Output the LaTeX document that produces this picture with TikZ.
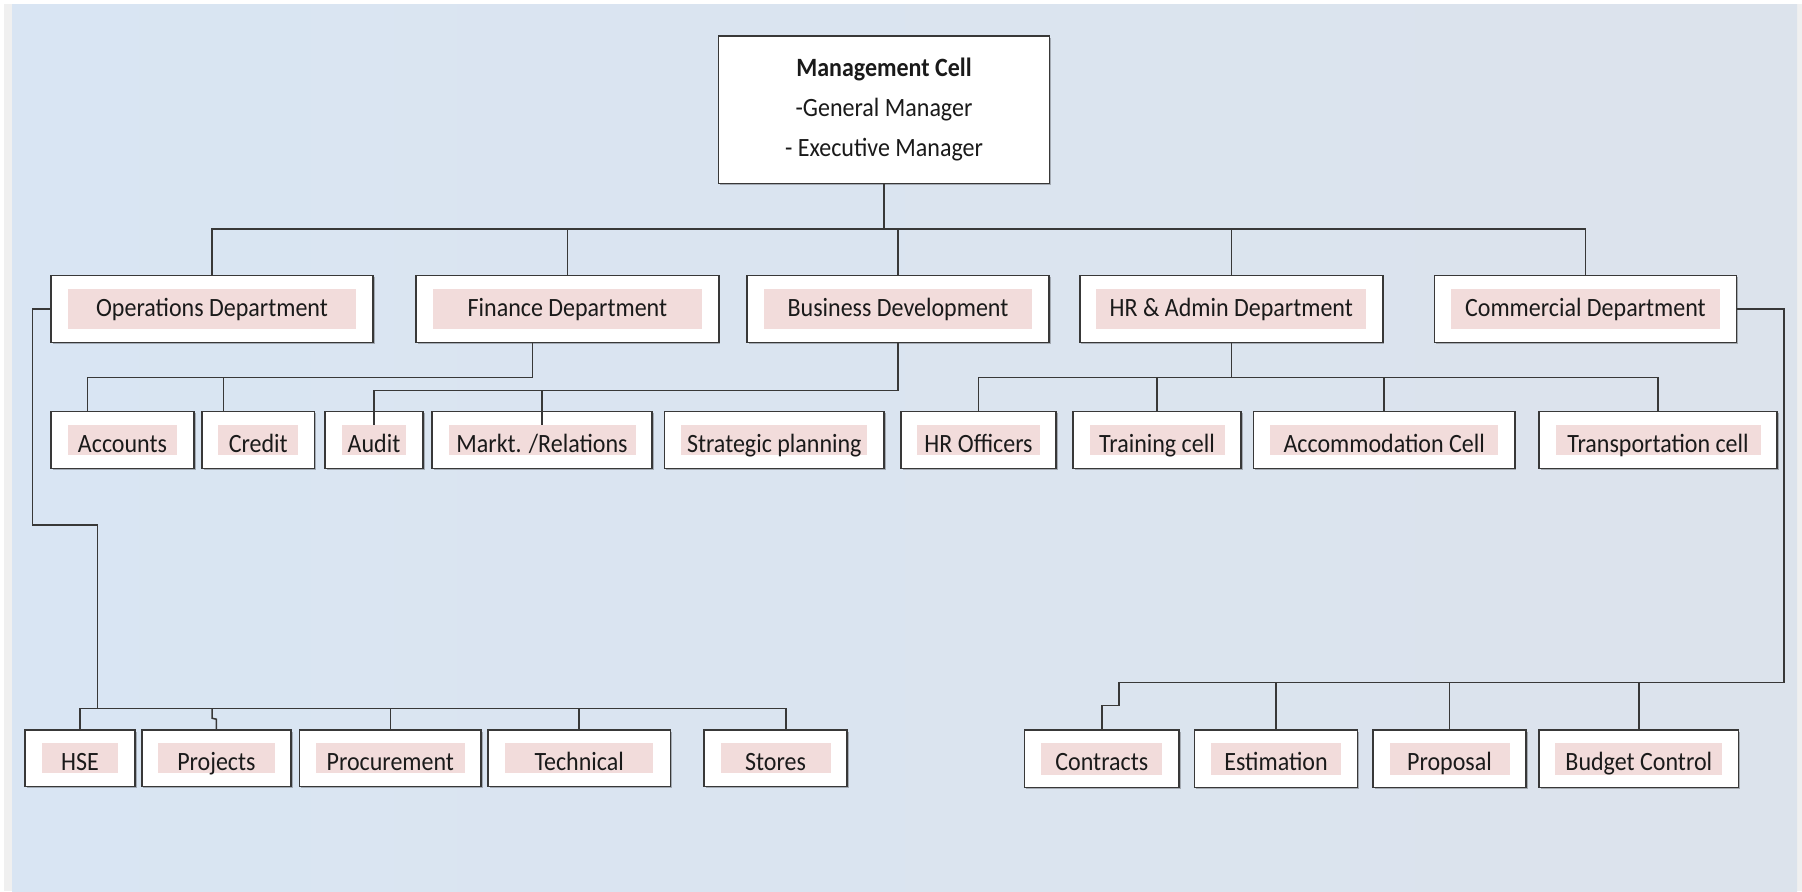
\documentclass[tikz,border=0pt]{standalone}
\usepackage{fontspec}
\setmainfont{Carlito}
\usetikzlibrary{shadows,calc}
\definecolor{pinkbg}{HTML}{F2DCDB}
\definecolor{bgl}{HTML}{D9E5F3}
\definecolor{bgr}{HTML}{DCE3EC}
\definecolor{edge}{HTML}{383838}
\definecolor{sidegray}{HTML}{F0F0F0}
\definecolor{txt}{HTML}{1A1A1A}
\newcommand\tx[1]{\scalebox{1}[1.1]{#1}}
\newcommand\obox[8]{%
  \node[obox, minimum width={#4*0.5pt}, minimum height={#5*0.5pt}] (#1) at (#2,#3) {};
  \node[pbox, minimum width={#6*0.5pt}, minimum height={#7*0.5pt}] (#1t) at (#1.center) {\tx{#8}};
}
\begin{document}
\begin{tikzpicture}[x=0.5pt,y=-0.5pt,
  obox/.style={draw=edge, line width=0.75pt, fill=white, inner sep=0pt,
    drop shadow={shadow xshift=0.8pt, shadow yshift=-0.8pt, fill=black, opacity=0.25}},
  pbox/.style={fill=pinkbg, inner sep=0pt, text=txt, font=\fontsize{12}{14}\selectfont,
    text height=12.5pt, text depth=0.5pt},
  conn/.style={draw=edge, line width=0.75pt}]
\useasboundingbox (0,0) rectangle (1802,891);
% background
\fill[white] (0,0) rectangle (1802,891);
\fill[sidegray] (4,4) rectangle (12,891);
\fill[sidegray] (1797,4) rectangle (1802,891);
\shade[left color=bgl, right color=bgr] (12,4) rectangle (1797,891);

% management
\node[obox, minimum width={330.6*0.5pt}, minimum height={147.3*0.5pt}] (mgmt) at (884,109.7) {};
\node[align=center, text=txt, font=\fontsize{12}{20}\selectfont, inner sep=0pt] (mgmtt) at (mgmt.center)
  {\tx{\bfseries Management Cell}\\\tx{-General Manager}\\\tx{- Executive Manager}};

% level 2
\begin{scope}[pbox/.append style={text height=10pt, text depth=2.5pt}]
\obox{ops}{212}{309}{322}{67.4}{288.3}{40}{Operations Department}
\obox{fin}{567.4}{309}{302.7}{67.4}{269.8}{40}{Finance Department}
\obox{bd}{898}{309}{302}{67.4}{268.5}{40}{Business Development}
\obox{hr}{1231.3}{309}{303}{67.4}{270}{40}{HR \& Admin Department}
\obox{com}{1585.4}{309}{302}{67.4}{268.7}{40}{Commercial Department}
\end{scope}

% level 3
\obox{acc}{122.5}{440}{143}{56.6}{109}{29.3}{Accounts}
\obox{crd}{258.3}{440}{112.6}{56.6}{80}{29.3}{Credit}
\obox{aud}{374}{440}{98}{56.6}{64.8}{29.3}{Audit}
\obox{mkt}{542}{440}{220}{56.6}{187}{29.3}{Markt. /Relations}
\obox{str}{774.3}{440}{219.3}{56.6}{185.8}{29.3}{Strategic planning}
\obox{hro}{978.5}{440}{155}{56.6}{123}{29.3}{HR Officers}
\obox{trn}{1157}{440}{168}{56.6}{135}{29.3}{Training cell}
\obox{acm}{1384.2}{440}{261.2}{56.6}{228}{29.3}{Accommodation Cell}
\obox{trp}{1658}{440}{238}{56.6}{205}{29.3}{Transportation cell}

% bottom left
\obox{hse}{80}{758.3}{110}{56.7}{76.8}{30}{HSE}
\obox{prj}{216.4}{758.3}{149.2}{56.7}{116.4}{30}{Projects}
\obox{prc}{390.3}{758.3}{181.3}{56.7}{149}{30}{Procurement}
\obox{tec}{579.2}{758.3}{182.5}{56.7}{148}{30}{Technical}
\obox{sto}{775.5}{758.3}{143}{56.7}{110}{30}{Stores}

% bottom right
\obox{ctr}{1101.8}{758.7}{154.4}{57.3}{121.2}{31.7}{Contracts}
\obox{est}{1276}{758.7}{163}{57.3}{129.7}{31.7}{Estimation}
\obox{prp}{1449.5}{758.7}{153}{57.3}{120}{31.7}{Proposal}
\obox{bud}{1638.8}{758.7}{199.7}{57.3}{167}{31.7}{Budget Control}

% coordinates for buses
\coordinate (busA) at (884,229);
\coordinate (busF) at (532.7,377.3);
\coordinate (busB) at (898,390.7);
\coordinate (busH) at (1231.3,377.3);
\coordinate (o1) at (32.7,525);
\coordinate (o2) at (97.6,708.7);
\coordinate (c1) at (1784,682.7);
\coordinate (c2) at (1119,705.7);
\coordinate (finDrop) at ($(fin.south west)!0.386!(fin.south east)$);
\coordinate (accDrop) at ($(acc.north west)!0.259!(acc.north east)$);
\coordinate (crdDrop) at ($(crd.north west)!0.195!(crd.north east)$);
\coordinate (stoDrop) at ($(sto.north west)!0.573!(sto.north east)$);
\coordinate (pj) at ($(prj.north)+(-4.4,-11)$);

% management bus
\draw[conn] (mgmt.south) -- (busA);
\draw[conn] (ops.north) |- (busA) -| (com.north);
\draw[conn] (fin.north) -- (fin.north |- busA);
\draw[conn] (bd.north) -- (bd.north |- busA);
\draw[conn] (hr.north) -- (hr.north |- busA);

% finance
\draw[conn] (finDrop) -- (finDrop |- busF) -| (accDrop);
\draw[conn] (crdDrop) -- (crdDrop |- busF);

% business development
\draw[conn] (bd.south) -- (busB) -| (audt.north);
\draw[conn] (mktt.north) -- (mktt.north |- busB);

% HR
\draw[conn] (hr.south) -- (busH);
\draw[conn] (hro.north) |- (busH) -| (trp.north);
\draw[conn] (trn.north) -- (trn.north |- busH);
\draw[conn] (acm.north) -- (acm.north |- busH);

% operations side
\draw[conn] (ops.west) -| (o1) -- (o1 -| o2) -- (o2);
\draw[conn] (hse.north) |- (o2) -| (stoDrop);
\draw[conn] (prj.north) -- ++(0,-10) -- (pj) -- (pj |- o2);
\draw[conn] (prc.north) -- (prc.north |- o2);
\draw[conn] (tec.north) -- (tec.north |- o2);

% commercial side
\draw[conn] (com.east) -| (c1) -| (c2) -| (ctr.north);
\draw[conn] (est.north) -- (est.north |- c1);
\draw[conn] (prp.north) -- (prp.north |- c1);
\draw[conn] (bud.north) -- (bud.north |- c1);
\end{tikzpicture}
\end{document}
